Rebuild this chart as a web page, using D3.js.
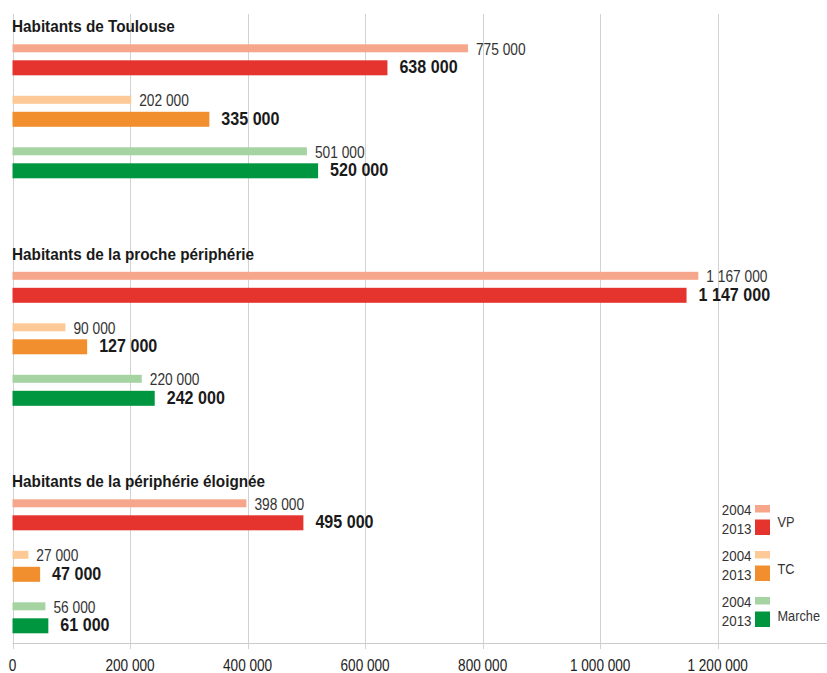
<!DOCTYPE html>
<html>
<head>
<meta charset="utf-8">
<script src="https://cdn.jsdelivr.net/npm/d3@7/dist/d3.min.js"></script>
<style>
  body { margin: 0; background: #fff; }
  svg { display: block; font-family: "Liberation Sans", Arial, sans-serif; }
</style>
</head>
<body>
<div id="chart"></div>
<script>
// data
var groups = ["Habitants de Toulouse", "Habitants de la proche périphérie", "Habitants de la périphérie éloignée"];
var modes = ["VP", "TC", "Marche"];
var years = ["2004", "2013"];
var v2004 = [[775000, 202000, 501000], [1167000, 90000, 220000], [398000, 27000, 56000]];
var v2013 = [[638000, 335000, 520000], [1147000, 127000, 242000], [495000, 47000, 61000]];
var ticks = [0, 200000, 400000, 600000, 800000, 1000000, 1200000];

var colLight = { VP: "#f5a68b", TC: "#fdc996", Marche: "#a6d3a2" },
    colDark = { VP: "#e5332d", TC: "#f18f2f", Marche: "#009640" };

var width = 827, height = 673;
var fmt = function (v) { return d3.format(",")(v).replace(/,/g, " "); };
// condensed look: squeeze the text horizontally
var at = function (px, py, sx) { return "translate(" + px + "," + py + ") scale(" + sx + ",1)"; };

var svg = d3.select("#chart").append("svg")
    .attr("width", width).attr("height", height);

var x = d3.scaleLinear().domain([0, 1386000]).range([12.5, 827]);
var gy = d3.scaleLinear().domain([0, 1]).range([44.3, 271.8]);   // group top
var my = d3.scaleLinear().domain([0, 1]).range([0, 51.5]);        // mode offset in group

// grid
svg.selectAll(".grid").data(ticks).enter().append("line")
    .attr("x1", d => Math.round(x(d)) + 0.5).attr("x2", d => Math.round(x(d)) + 0.5)
    .attr("y1", 14).attr("y2", 649)
    .style("stroke", "#d2d2d2").style("stroke-width", 1);

svg.append("line")
    .attr("x1", x(0)).attr("x2", width)
    .attr("y1", 643.5).attr("y2", 643.5)
    .style("stroke", "#cbcbcb").style("stroke-width", 1);

svg.selectAll(".tick").data(ticks).enter().append("text")
    .attr("transform", d => at(x(d), 670.5, 0.85))
    .attr("text-anchor", "middle")
    .style("font-size", "16px").style("fill", "#222")
    .text(d => fmt(d));

// groups
var rows = [];
groups.forEach(function (g, i) {
    modes.forEach(function (m, j) {
        rows.push({ g: i, m: m, j: j, a: v2004[i][j], b: v2013[i][j] });
    });
});

svg.selectAll(".title").data(groups).enter().append("text")
    .attr("transform", (d, i) => at(12, gy(i) - 12.3, 0.9))
    .style("font-size", "17px").style("font-weight", "bold").style("fill", "#1a1a1a")
    .text(d => d);

svg.selectAll(".light").data(rows).enter().append("rect")
    .attr("x", x(0)).attr("y", d => gy(d.g) + my(d.j))
    .attr("width", d => x(d.a) - x(0)).attr("height", 8)
    .style("fill", d => colLight[d.m]);

svg.selectAll(".dark").data(rows).enter().append("rect")
    .attr("x", x(0)).attr("y", d => gy(d.g) + my(d.j) + 16)
    .attr("width", d => x(d.b) - x(0)).attr("height", 15)
    .style("fill", d => colDark[d.m]);

svg.selectAll(".lab-a").data(rows).enter().append("text")
    .attr("transform", d => at(x(d.a) + 8, gy(d.g) + my(d.j) + 10.3, 0.86))
    .style("font-size", "16px").style("fill", "#333")
    .text(d => fmt(d.a));

svg.selectAll(".lab-b").data(rows).enter().append("text")
    .attr("transform", d => at(x(d.b) + 12, gy(d.g) + my(d.j) + 29, 0.87))
    .style("font-size", "18.5px").style("font-weight", "bold").style("fill", "#1a1a1a")
    .text(d => fmt(d.b));

// legend
var leg = svg.selectAll(".leg").data(modes).enter().append("g")
    .attr("transform", (d, j) => "translate(0," + (505 + j * 46) + ")");

leg.append("rect").attr("x", 755).attr("y", 0).attr("width", 15).attr("height", 7.5)
    .style("fill", d => colLight[d]);
leg.append("rect").attr("x", 755).attr("y", 14.5).attr("width", 15).attr("height", 15.5)
    .style("fill", d => colDark[d]);
leg.append("text").attr("transform", at(751.5, 10.3, 0.92))
    .attr("text-anchor", "end").style("font-size", "14.5px").style("fill", "#333")
    .text(years[0]);
leg.append("text").attr("transform", at(751.5, 29.3, 0.92))
    .attr("text-anchor", "end").style("font-size", "14.5px").style("fill", "#333")
    .text(years[1]);
leg.append("text").attr("transform", (d, j) => at(777.5, 22 + j * 0.8, 0.88))
    .style("font-size", "14.5px").style("fill", "#333")
    .text(d => d);
</script>
</body>
</html>
